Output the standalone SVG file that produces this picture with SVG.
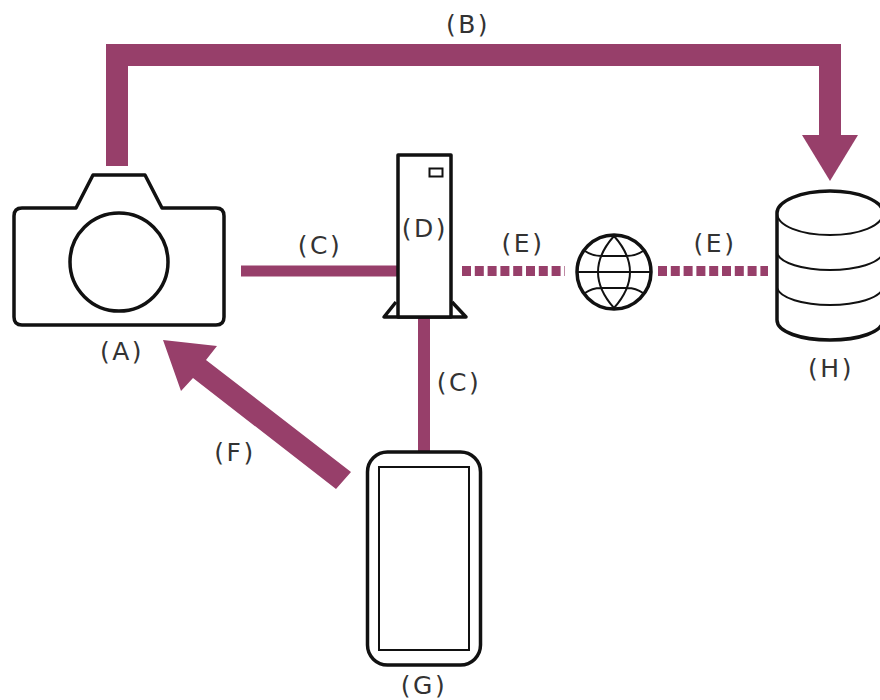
<svg xmlns="http://www.w3.org/2000/svg" width="880" height="700" viewBox="0 0 880 700">
<style>
text{font-family:"DejaVu Sans",sans-serif;font-size:25px;fill:#333;text-anchor:middle;letter-spacing:2.500px}
.o{fill:#fff;stroke:#111;stroke-width:3.500;stroke-linejoin:round}
.t{fill:none;stroke:#111;stroke-width:2}
.c{fill:none;stroke:#973f6a}
.f{fill:#973f6a}
</style>
<rect width="880" height="700" fill="#fff"/>
<g id="connectors">
<path class="c" stroke-width="22" d="M117 166V55H830V136"/>
<polygon class="f" points="802,135 858,135 830,181"/>
<path class="c" stroke-width="11" d="M241 271H398"/>
<path class="c" stroke-width="12" d="M424 318V452"/>
<path class="c" stroke-width="10" stroke-dasharray="9 3.800" d="M462 271H565"/>
<path class="c" stroke-width="10" stroke-dasharray="9 3.800" d="M658 271H768"/>
<polygon class="f" points="163,340 217,346 206,360 351,472 336,489 193,378 181,391"/>
</g>
<g id="node-a">
<path class="o" d="M22 208H76L93 175H145L162 208H216Q224 208 224 216V317Q224 325 216 325H22Q14 325 14 317V216Q14 208 22 208Z"/>
<circle class="o" cx="119" cy="262" r="49"/>
<text x="122" y="360">(A)</text>
</g>
<g id="node-d">
<path class="o" d="M396 302L384 317H466L452 302"/>
<rect class="o" x="398" y="155" width="53" height="162"/>
<rect class="t" x="429.500" y="168.500" width="13" height="8"/>
<text x="425" y="237">(D)</text>
</g>
<g id="node-globe">
<circle class="o" cx="614" cy="272" r="37"/>
<path class="t" d="M614 236Q598 254 598 272T614 308Q630 290 630 272T614 236ZM577 272H651M585 251Q592 256 601 256H627Q636 256 643 251M585 293Q592 288 601 288H627Q636 288 643 293"/>
</g>
<g id="node-h">
<path class="o" d="M777 213V320C777 332 801 340 830 340S883 332 883 320V213C883 201 859 191 830 191S777 201 777 213Z"/>
<path class="t" d="M777 213C777 226 801 235 830 235S883 226 883 213M777 253C780 263 803 270 830 270S880 263 883 253M777 288C780 298 803 305 830 305S880 298 883 288"/>
<text x="831" y="377">(H)</text>
</g>
<g id="node-g">
<rect class="o" x="367.500" y="452" width="113" height="213" rx="20"/>
<rect class="t" x="379" y="467" width="90" height="183"/>
<text x="424" y="694">(G)</text>
</g>
<g id="labels">
<text x="468" y="33">(B)</text>
<text x="320" y="254">(C)</text>
<text x="523" y="252">(E)</text>
<text x="715" y="252">(E)</text>
<text x="459" y="391">(C)</text>
<text x="235" y="461">(F)</text>
</g>
</svg>
